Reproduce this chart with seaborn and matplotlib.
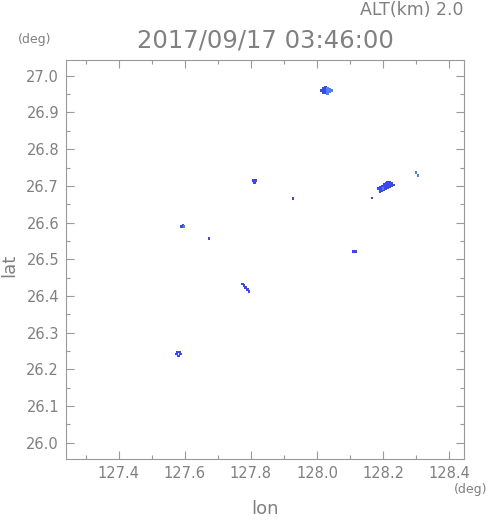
import numpy as np
import pandas as pd
import seaborn as sns
import matplotlib.pyplot as plt
from matplotlib.ticker import MultipleLocator

# echo cells: lon, lat, level (1 = dark blue, 2 = light blue)
lon = [
    # cluster near 128.03 / 26.96
    128.014, 128.020, 128.020, 128.020, 128.026, 128.026, 128.026,
    128.032, 128.032, 128.032, 128.038, 128.038, 128.043,
    # cluster near 128.21 / 26.70
    128.184, 128.190, 128.190, 128.190, 128.196, 128.196, 128.196,
    128.202, 128.202, 128.202, 128.208, 128.208, 128.208,
    128.214, 128.214, 128.214, 128.220, 128.220, 128.220,
    128.226, 128.226, 128.232, 128.199, 128.166,
    128.299, 128.305,
    # small echoes
    127.808, 127.814, 127.811,
    127.590, 127.594, 127.598,
    127.673, 127.927, 128.109, 128.116,
    127.774, 127.779, 127.784, 127.789, 127.794,
    127.574, 127.578, 127.584, 127.587, 127.580,
]
lat = [
    26.960, 26.967, 26.960, 26.953, 26.969, 26.962, 26.955,
    26.966, 26.959, 26.952, 26.963, 26.956, 26.960,
    26.693, 26.690, 26.697, 26.684, 26.686, 26.693, 26.700,
    26.690, 26.697, 26.704, 26.693, 26.700, 26.706,
    26.696, 26.703, 26.709, 26.697, 26.704, 26.710,
    26.700, 26.707, 26.703, 26.693, 26.667,
    26.736, 26.728,
    26.715, 26.715, 26.710,
    26.590, 26.594, 26.590,
    26.556, 26.665, 26.521, 26.521,
    26.433, 26.428, 26.423, 26.418, 26.413,
    26.242, 26.248, 26.248, 26.242, 26.237,
]
level = [
    1, 1, 1, 1, 1, 1, 1,
    2, 2, 2, 2, 2, 2,
    1, 1, 1, 1, 1, 1, 1,
    1, 1, 1, 1, 1, 1,
    1, 1, 1, 1, 1, 1,
    1, 1, 1, 2, 1,
    2, 2,
    1, 1, 1,
    1, 1, 2,
    1, 1, 1, 1,
    1, 1, 1, 1, 1,
    1, 1, 1, 1, 1,
]

df = pd.DataFrame({"lon": lon, "lat": lat, "level": level})

gray = "#808080"
sns.set_style("ticks")
plt.rcParams["font.family"] = ["DejaVu Sans"]

fig = plt.figure(figsize=(4.91, 5.21), dpi=100)
ax = fig.add_axes([66 / 491, 62 / 521, 398 / 491, 399 / 521])

sns.scatterplot(data=df, x="lon", y="lat", hue="level",
                palette={1: "#3b48f0", 2: "#4a80ff"},
                marker="s", s=3.5, linewidth=0, legend=False, ax=ax)

ax.set_xlim(127.2406, 128.4445)
ax.set_ylim(25.956, 27.043)
ax.xaxis.set_major_locator(MultipleLocator(0.2))
ax.xaxis.set_minor_locator(MultipleLocator(0.1))
ax.yaxis.set_major_locator(MultipleLocator(0.1))
ax.yaxis.set_minor_locator(MultipleLocator(0.05))
ax.xaxis.set_major_formatter(lambda v, p: "%.1f" % v)
ax.yaxis.set_major_formatter(lambda v, p: "%.1f" % v)

ax.tick_params(which="both", direction="in", top=True, right=True,
               color="#999999", width=0.8, labelcolor=gray, labelsize=10.5, pad=5)
ax.tick_params(which="major", length=6)
ax.tick_params(which="minor", length=3)
for s in ax.spines.values():
    s.set_color("#999999")
    s.set_linewidth(0.8)

ax.set_xlabel("")
ax.set_ylabel("")

fig.text(463 / 491, 1 - 10 / 521, "ALT(km) 2.0", ha="right", va="center",
         fontsize=12.5, color=gray)
fig.text(265.5 / 491, 1 - 41 / 521, "2017/09/17 03:46:00", ha="center", va="center",
         fontsize=17.5, color=gray)
fig.text(35 / 491, 1 - 39 / 521, "(deg)", ha="center", va="center",
         fontsize=9, color=gray)
fig.text(471 / 491, 1 - 490 / 521, "(deg)", ha="center", va="center",
         fontsize=9, color=gray)
fig.text(265 / 491, 1 - 509 / 521, "lon", ha="center", va="center",
         fontsize=13, color=gray)
fig.text(9 / 491, 1 - 265 / 521, "lat", ha="center", va="center",
         fontsize=13, color=gray, rotation=90)

fig.savefig("out.png", dpi=100)
